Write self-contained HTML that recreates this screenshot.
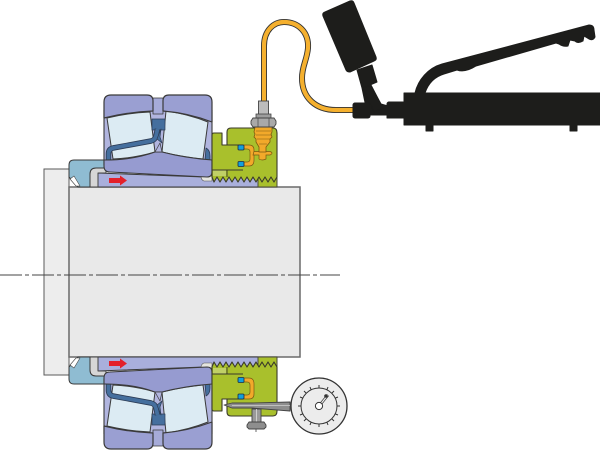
<!DOCTYPE html>
<html><head><meta charset="utf-8"><style>html,body{margin:0;padding:0;background:#fff}svg{display:block}</style></head>
<body>
<svg width="600" height="450" viewBox="0 0 600 450" xmlns="http://www.w3.org/2000/svg">
<defs>
<g id="half" stroke-linejoin="round">
  <!-- sleeve -->
  <path d="M98 173 L204 177 L258 178 V187 H98 Z" fill="#a9afdc" stroke="#3a3a3a" stroke-width="1"/>
  <path d="M201 176 H212 V181 H204 Q201 180 201 176Z" fill="#e6e6e0" stroke="#555" stroke-width=".6"/>
  <path d="M90 187 V174 Q90 168 96 168 H106 V173 H98 V187 Z" fill="#d6d6d6" stroke="#444" stroke-width="1"/>
  <path d="M69 165 Q69 160 74 160 H105 V168 H96 Q90 168 90 174 V187 H78 L69 177 Z" fill="#8fbcd2" stroke="#3a3a3a" stroke-width="1"/>
  <path d="M70 179 L74 176 L80 186 L76 186 Z" fill="#fff" stroke="#444" stroke-width=".6"/>
  <path d="M109 178 H120 V175.500 L127 180.500 L120 185.500 V183 H109 Z" fill="#e3202a"/>
  <!-- bearing background -->
  <path d="M104 110 H212 V165 H104 Z" fill="#b1b5df" stroke="#3a3a3a" stroke-width="1.100"/>
  <rect x="153" y="98" width="10" height="16" fill="#a6abd9" stroke="#3a3a3a" stroke-width=".8"/>
  <!-- rollers -->
  <path d="M107 118 Q128 113 150 112 L155 152 Q135 158 113 159 Z" fill="#dcebf3" stroke="#3a3a3a" stroke-width="1"/>
  <path d="M166 111 Q188 114 208 122 L203 159 Q182 157 162 152 Z" fill="#dcebf3" stroke="#3a3a3a" stroke-width="1"/>
  <!-- cage -->
  <rect x="152" y="119" width="13" height="11" fill="#456f9e" stroke="#2d3c55" stroke-width=".7"/>
  <path d="M108.500 160 V154 Q108.500 149 113 148 L151 141 Q155 140 156 136 L157.500 129" fill="none" stroke="#2d3c55" stroke-width="5.500"/>
  <path d="M108.500 160 V154 Q108.500 149 113 148 L151 141 Q155 140 156 136 L157.500 129" fill="none" stroke="#456f9e" stroke-width="3.800"/>
  <path d="M161 129 L160 137 L162 143 L157 139Z" fill="#456f9e" stroke="#2d3c55" stroke-width=".7"/>
  <path d="M206 148 Q210 150 210 156 V160 H205 Z" fill="#456f9e" stroke="#2d3c55" stroke-width=".8"/>
  <!-- inner ring -->
  <path d="M105 160 Q133 160 155 152 L162 152 Q185 158 212 160 V172 Q212 177 207 177 L110 172 Q104 172 104 166 V160 Z" fill="#969bd0" stroke="#3a3a3a" stroke-width="1.100"/>
  <path d="M155 152 L160 143 L162 152 Z" fill="#b1b5df" stroke="#3a3a3a" stroke-width=".7"/>
  <!-- outer rings -->
  <path d="M104 102 Q104 95 111 95 H147 Q153 95 153 101 V111 Q128 112 104 118 Z" fill="#9a9fd2" stroke="#3a3a3a" stroke-width="1.200"/>
  <path d="M163 101 Q163 95 169 95 H205 Q212 95 212 102 V122 Q188 113 163 111 Z" fill="#9a9fd2" stroke="#3a3a3a" stroke-width="1.200"/>
  <!-- nut base threads -->
  <rect x="258" y="176" width="19" height="11" fill="#a9c02c" stroke="#4a4a3a" stroke-width="1"/>
  <!-- nut -->
  <path d="M212 135 Q212 133 214 133 H222 V145 H227 V132 Q227 128 231 128 H273 Q277 128 277 133 V177 L274 182 L271 177 L268 182 L265 177 L262 182 L259 177 L256 182 L253 177 L250 182 L247 177 L244 182 L241 177 L238 182 L235 177 L232 182 L229 177 L226 182 L223 177 L220 182 L217 177 L214 182 L212 177 Z" fill="#a9c02c" stroke="#3a3a2a" stroke-width="1.100"/>
  <path d="M213 170 H226 V176 H213 Z" fill="#c0d066"/>
  <path d="M227 145 H243 M243 170 H227 V177 M212 170 H227" fill="none" stroke="#3a3a2a" stroke-width=".9"/>
  <!-- hydraulic chamber -->
  <path d="M243 145 H249 Q254 145 254 150 V160 Q254 166 249 166 H243 V162 H247 Q250 162 250 159 V152 Q250 149 247 149 H243 Z" fill="#f2a92a" stroke="#7a5a10" stroke-width=".7"/>
  <rect x="238" y="145" width="6" height="5" rx="1" fill="#12a0dc" stroke="#1c2a44" stroke-width=".8"/>
  <rect x="238" y="161.500" width="6" height="5" rx="1" fill="#12a0dc" stroke="#1c2a44" stroke-width=".8"/>
</g>
</defs>

<!-- shafts -->
<rect x="44" y="169" width="25" height="206" fill="#ededed" stroke="#5a5a5a" stroke-width="1"/>
<rect x="69" y="187" width="231" height="170" fill="#e9e9e9" stroke="#6a6a6a" stroke-width="1.500"/>
<path d="M0 275 H340" stroke="#444" stroke-width=".9" stroke-dasharray="22 3 4 3" fill="none"/>

<use href="#half"/>
<use href="#half" transform="translate(0,544) scale(1,-1)"/>

<!-- top fitting -->
<path d="M254 151.500 H270 Q274 153 270 155 H266 V159 Q262 161 259 159 V155 H253 Z" fill="#f2a92a" stroke="#7a5a10" stroke-width=".7"/>
<path d="M255 127 H272 V132 L271 134 L272 137 L270 139 L270 142 L266 147 V152 H259 V147 L256 142 L256 139 L254 137 L255 134 L254 132 Z" fill="#f2a92a" stroke="#7a5a10" stroke-width=".8"/>
<path d="M256 131 H271 M256 135 H271 M257 139 H270 M259 144 H267" stroke="#7a5a10" stroke-width=".6" fill="none"/>
<!-- hose -->
<path d="M264 102 V46 C264 30 274 22 284 22 C298 22 309 32 308 48 C307 60 302 66 302 78 C302 98 316 110 336 110 H354" fill="none" stroke="#333" stroke-width="6"/>
<path d="M264 102 V46 C264 30 274 22 284 22 C298 22 309 32 308 48 C307 60 302 66 302 78 C302 98 316 110 336 110 H354" fill="none" stroke="#f5b02e" stroke-width="4.200"/>
<!-- connector -->
<rect x="258.500" y="101" width="10" height="14" fill="#bcbcbc" stroke="#444" stroke-width=".9"/>
<rect x="256" y="114" width="15" height="4" fill="#9d9d9d" stroke="#444" stroke-width=".8"/>
<path d="M253 118 H274 L276 121 V124 L274 127 H253 L251 124 V121 Z" fill="#a9a9a9" stroke="#444" stroke-width=".9"/>
<path d="M258 118 V127 M269 118 V127" stroke="#444" stroke-width=".7"/>

<!-- pump -->
<g fill="#1d1d1b" stroke="#1d1d1b" stroke-width="1" stroke-linejoin="round">
  <path d="M325 12 L350 1 Q353 0 354 3 L376 57 Q377 60 374 61 L350 72 Q347 72 346 70 L323 16 Q322 13 325 12Z"/>
  <path d="M357 70 L372 65 L377 82 L370 85 L381 104 L388 106 H404 V118 H387 V115 H370 L368 114 L367 112 L362 88 Z"/>
  <path d="M363 88 L371 85 L383 108 L374 112 Z"/>
  <rect x="353" y="103" width="17" height="15" rx="2"/>
  <rect x="387" y="102" width="18" height="16" rx="2"/>
  <rect x="404" y="93" width="196" height="32"/>
  <rect x="426" y="125" width="7" height="6"/>
  <rect x="570" y="125" width="7" height="6"/>
  <path d="M415 93 C418 80 428 68 442 64 L589 25 Q594 25 594 30 L595 37 Q593 41 589 39 L584 36 L583 41 Q578 44 575 41 L570 40 L568 46 Q563 47 559 44 L556 43 L476 66 Q465 73 457 70 L444 74 C434 77 428 84 425 93 Z"/>
</g>

<!-- gauge -->
<g stroke-linejoin="round">
  <path d="M224 405 L232 403 H252 L290 402 V411 L252 408 H232 Z" fill="#8e8e8e" stroke="#444" stroke-width=".9"/>
  <path d="M232 405.500 H290" stroke="#d0d0d0" stroke-width=".8"/>
  <path d="M252 409 H261 V422 H252 Z" fill="#9a9a9a" stroke="#444" stroke-width=".9"/>
  <path d="M256.500 409 V422" stroke="#ddd" stroke-width=".8"/>
  <path d="M249 422 H264 L266 425 V427 L264 429 H249 L247 427 V425 Z" fill="#8e8e8e" stroke="#444" stroke-width=".9"/>
  <path d="M256 429 V432" stroke="#444" stroke-width=".8"/>
  <circle cx="319" cy="406" r="28" fill="#ececec" stroke="#333" stroke-width="1.300"/>
  <circle cx="319" cy="406" r="18" fill="#ececec" stroke="#333" stroke-width="1"/>
  <g stroke="#333" stroke-width="1">
    <path d="M319 388 V385 M319 424 V427 M301 406 H298 M337 406 H340"/>
    <path d="M332 393 L334 391 M332 419 L334 421 M306 393 L304 391 M306 419 L304 421"/>
    <path d="M311 389.500 L310 387 M327 389.500 L328 387 M311 422.500 L310 425 M327 422.500 L328 425"/>
    <path d="M302.500 398 L300 397 M302.500 414 L300 415 M335.500 398 L338 397 M335.500 414 L338 415"/>
  </g>
  <path d="M319 406 L328 395" stroke="#333" stroke-width="2.600"/>
  <path d="M319 406 L328 395" stroke="#ececec" stroke-width="1.300"/>
  <circle cx="326" cy="396" r="1.800" fill="#333"/>
  <circle cx="319" cy="406" r="3.600" fill="#fff" stroke="#333" stroke-width="1"/>
</g>
</svg>
</body></html>
